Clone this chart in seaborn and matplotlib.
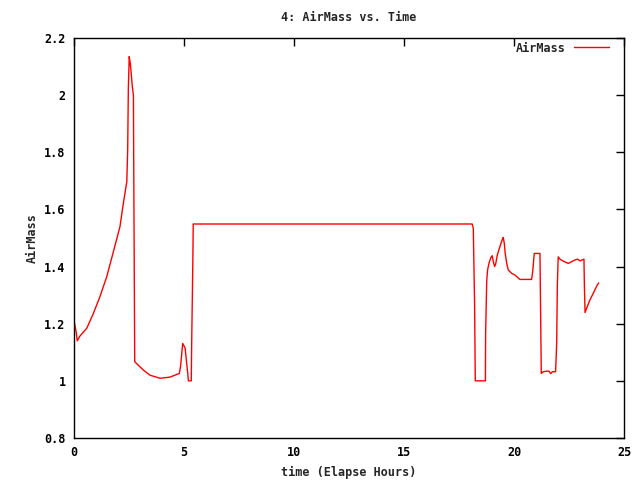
import numpy as np
import pandas as pd
import seaborn as sns
import matplotlib.pyplot as plt

# gia tri doc tu hinh (gio, airmass)
hours = [0.00, 0.03, 0.10, 0.15, 0.27, 0.58, 0.88, 1.18, 1.49, 1.79, 2.09, 2.24, 2.40,
         2.44, 2.47, 2.51, 2.56, 2.60, 2.65, 2.70, 2.73, 2.76, 3.15, 3.45, 3.91, 4.36,
         4.79, 4.85, 4.94, 5.05, 5.11, 5.17, 5.20, 5.33, 5.35, 5.40, 5.42, 18.10, 18.15,
         18.21, 18.24, 18.70, 18.71, 18.76, 18.80, 18.86, 18.94, 19.01, 19.06, 19.12,
         19.17, 19.24, 19.36, 19.47, 19.51, 19.56, 19.60, 19.67, 19.74, 19.90, 20.05,
         20.27, 20.80, 20.85, 20.92, 21.18, 21.21, 21.24, 21.33, 21.49, 21.59, 21.67,
         21.74, 21.89, 21.94, 21.97, 22.01, 22.09, 22.24, 22.47, 22.62, 22.77, 22.89,
         23.00, 23.18, 23.20, 23.23, 23.30, 23.45, 23.60, 23.76, 23.85]
airmass = [1.15, 1.20, 1.17, 1.14, 1.157, 1.184, 1.236, 1.295, 1.365, 1.452, 1.54, 1.62, 1.697,
           1.808, 2.024, 2.135, 2.11, 2.077, 2.03, 2.00, 1.522, 1.067, 1.038, 1.02, 1.009, 1.013,
           1.026, 1.055, 1.131, 1.115, 1.07, 1.027, 1.0, 1.0, 1.137, 1.41, 1.549, 1.549, 1.534,
           1.262, 1.0, 1.0, 1.166, 1.35, 1.388, 1.411, 1.43, 1.438, 1.417, 1.40,
           1.41, 1.44, 1.47, 1.495, 1.502, 1.481, 1.446, 1.411, 1.388, 1.376, 1.37,
           1.355, 1.355, 1.382, 1.446, 1.446, 1.236, 1.026, 1.032, 1.034, 1.034, 1.025,
           1.032, 1.032, 1.131, 1.335, 1.434, 1.426, 1.419, 1.411, 1.417, 1.423, 1.426,
           1.42, 1.426, 1.332, 1.239, 1.254, 1.283, 1.306, 1.332, 1.343]

df = pd.DataFrame({'time': hours, 'AirMass': airmass})

sns.set_style('white')
plt.rcParams['font.family'] = ['DejaVu Sans Mono']
plt.rcParams['font.weight'] = 'bold'
plt.rcParams['axes.titleweight'] = 'bold'
plt.rcParams['axes.labelweight'] = 'bold'

fig = plt.figure(figsize=(6.4, 4.8), dpi=100)
ax = fig.add_axes([74 / 640, 42 / 480, 550 / 640, 400 / 480])

sns.lineplot(data=df, x='time', y='AirMass', color='red', linewidth=1,
             label='AirMass', ax=ax, estimator=None)

ax.set_xlim(0, 25)
ax.set_ylim(0.8, 2.2)
ax.set_xticks([0, 5, 10, 15, 20, 25])
ax.set_yticks([0.8, 1.0, 1.2, 1.4, 1.6, 1.8, 2.0, 2.2])
ax.set_yticklabels(['0.8', '1', '1.2', '1.4', '1.6', '1.8', '2', '2.2'])
ax.tick_params(direction='in', length=6, width=1, top=True, right=True,
               labelsize=8.5, colors='black', pad=6)
for s in ax.spines.values():
    s.set_color('black')
    s.set_linewidth(1)

ax.set_title('4: AirMass vs. Time', fontsize=8.5, pad=12)
ax.set_xlabel('time (Elapse Hours)', fontsize=8.5, labelpad=5)
ax.set_ylabel('AirMass', fontsize=8.5, labelpad=4)

leg = ax.legend(loc='upper right', bbox_to_anchor=(0.98, 1.0), frameon=False,
                markerfirst=False, fontsize=8.5, handlelength=3.0,
                handletextpad=0.7, borderaxespad=0.1, borderpad=0.2)

fig.savefig('out.png', dpi=100)
